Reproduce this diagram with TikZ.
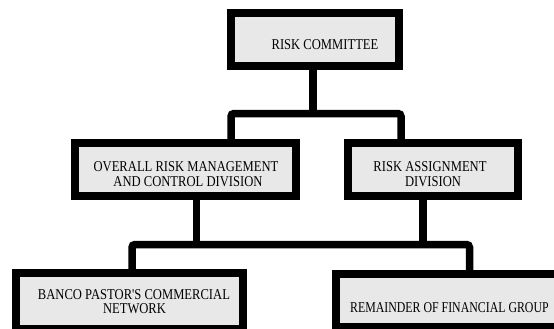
\documentclass[tikz,border=0pt]{standalone}
\usepackage{fontspec}
\newfontfamily\boxfont[FakeStretch=0.84]{Liberation Serif}
\newfontfamily\narrowboxfont[FakeStretch=0.79]{Liberation Serif}
\definecolor{boxgray}{HTML}{E8E8E8}
\tikzset{
  orgbox/.style={draw=black, fill=boxgray, line width=8pt, inner sep=0pt, rectangle},
  conn/.style={draw=black, line width=7.5pt, rounded corners=3pt},
  lbl/.style={inner sep=0pt, anchor=base, font=\boxfont\fontsize{15}{14.3}\selectfont}
}
\begin{document}
\begin{tikzpicture}[x=1pt,y=-1pt]
\useasboundingbox (0,0) rectangle (554,329);
\clip (0,0) rectangle (554,329);
% boxes
\node[orgbox, minimum width=168pt, minimum height=53pt] (top) at (315,39.5) {};
\node[orgbox, minimum width=221pt, minimum height=53pt] (midL) at (185.5,169.5) {};
\node[orgbox, minimum width=170pt, minimum height=53pt] (midR) at (433,169.5) {};
\node[orgbox, minimum width=227pt, minimum height=56pt] (botL) at (129.5,301) {};
\node[orgbox, minimum width=270pt, minimum height=53pt] (botR) at (471,300.5) {};
% junction coordinates
\coordinate (j1) at (313,113.5);
\coordinate (a1) at (231,113.5);
\coordinate (b1) at (401,113.5);
\coordinate (j2) at (196.5,244.5);
\coordinate (j3) at (423,244.5);
\coordinate (a2) at (132,244.5);
\coordinate (b2) at (469.5,244.5);
% connectors
\draw[conn] (top.south -| j1) -- (j1);
\draw[conn] (midL.north -| a1) -- (a1) -- (b1) -- (midR.north -| b1);
\draw[conn] (midL.south -| j2) -- (j2);
\draw[conn] (midR.south -| j3) -- (j3);
\draw[conn] (botL.north -| a2) -- (a2) -- (b2) -- (botR.north -| b2);
% labels
\node[lbl] (tTop) at (325,50) {RISK COMMITTEE};
\node[lbl] (tMidL1) at (186,171.7) {OVERALL RISK MANAGEMENT};
\node[lbl] (tMidL2) at (188,186) {AND CONTROL DIVISION};
\node[lbl] (tMidR1) at (430,171.7) {RISK ASSIGNMENT};
\node[lbl] (tMidR2) at (433,186) {DIVISION};
\node[lbl] (tBotL1) at (134,299) {BANCO PASTOR'S COMMERCIAL};
\node[lbl] (tBotL2) at (134.5,313) {NETWORK};
\node[lbl, anchor=base west, font=\narrowboxfont\fontsize{15}{14.3}\selectfont] (tBotR) at (350,312) {REMAINDER OF FINANCIAL GROUP};
\end{tikzpicture}
\end{document}
